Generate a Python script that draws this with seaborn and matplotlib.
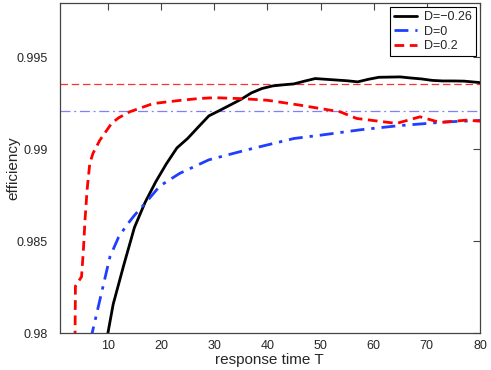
import matplotlib
matplotlib.use("Agg")
import matplotlib.pyplot as plt
import seaborn as sns
import numpy as np

# Data
T_black = [9, 11, 13, 15, 17, 19, 21, 23, 25, 27, 29, 31, 33, 35, 37, 39, 41, 43, 45,
           47, 49, 51, 53, 55, 57, 59, 61, 63, 65, 67, 69, 71, 73, 75, 77, 80]
E_black = [0.9784, 0.98156, 0.9837, 0.98574, 0.9871, 0.98822, 0.9892, 0.99007, 0.99058,
           0.9912, 0.99181, 0.9921, 0.9924, 0.9927, 0.99306, 0.9933, 0.99344, 0.9935,
           0.99355, 0.9937, 0.99384, 0.9938, 0.99376, 0.99372, 0.99366, 0.9938, 0.99391,
           0.99392, 0.99393, 0.99387, 0.99382, 0.99374, 0.99371, 0.99371, 0.9937, 0.99362]

T_blue = [5, 7.05, 8.5, 10.4, 12, 13.5, 15, 17, 19.8, 23.5, 29, 36, 45, 50, 57.4, 64.5, 73.5, 80]
E_blue = [0.976, 0.98, 0.9818, 0.98415, 0.9852, 0.98585, 0.9864, 0.98705, 0.988, 0.98868,
          0.98942, 0.98995, 0.99058, 0.99076, 0.99105, 0.99127, 0.99148, 0.99156]

T_red = [3.7, 3.9, 5.05, 5.4, 5.7, 6.1, 6.6, 7.2, 8.5, 10.7, 12, 14.1, 18.5, 23.5, 27, 30,
         35, 40, 46, 53.7, 56.8, 64.3, 68.7, 72.5, 77.5, 80]
E_red = [0.975, 0.98255, 0.98306, 0.9845, 0.98614, 0.9878, 0.98922, 0.98977, 0.99049, 0.9914,
         0.9917, 0.99203, 0.99248, 0.99265, 0.99275, 0.9928, 0.99275, 0.99266, 0.9924,
         0.99203, 0.99167, 0.9914, 0.99176, 0.99145, 0.99158, 0.99152]

ref_red = 0.99352
ref_blue = 0.99207

labels = ["D=\u22120.26", "D=0", "D=0.2"]
xticks = [10, 20, 30, 40, 50, 60, 70, 80]
yticks = [0.98, 0.985, 0.99, 0.995]
ytick_labels = ["0.98", "0.985", "0.99", "0.995"]

sns.set_style("white")
plt.rcParams['font.family'] = ['Liberation Sans', 'DejaVu Sans']

fig = plt.figure(figsize=(4.91, 3.70), dpi=100)
ax = fig.add_axes([0.1222, 0.1, 0.8554, 0.8919])

ax.axhline(ref_red, color='#ff3030', lw=0.9, ls=(0, (6, 3)))
ax.axhline(ref_blue, color='#7f7fff', lw=0.9, ls=(0, (8, 3, 1.5, 3)))

sns.lineplot(x=T_black, y=E_black, ax=ax, color='black', lw=2.0, label=labels[0])
sns.lineplot(x=T_blue, y=E_blue, ax=ax, color='#1f3fff', lw=2.0,
             linestyle=(0, (5, 2.5, 1.2, 2.5)), label=labels[1])
sns.lineplot(x=T_red, y=E_red, ax=ax, color='#ff0000', lw=2.0,
             linestyle=(0, (3.5, 2)), label=labels[2])

ax.set_xlim(1, 80)
ax.set_ylim(0.98, 0.99795)
ax.set_xticks(xticks)
ax.set_yticks(yticks)
ax.set_yticklabels(ytick_labels)
ax.tick_params(direction='in', length=5, width=0.8, color='#444444',
               labelsize=9, top=True, right=True)
ax.tick_params(axis='x', pad=5)
ax.tick_params(axis='y', pad=9)
for s in ax.spines.values():
    s.set_color('#444444')
    s.set_linewidth(0.9)

ax.set_xlabel("response time T", fontsize=11)
ax.set_ylabel("efficiency", fontsize=11)
ax.xaxis.set_label_coords(0.498, -0.06)
ax.yaxis.set_label_coords(-0.095, 0.5)

leg = ax.legend(loc='upper right', fontsize=9, frameon=True, fancybox=False,
                edgecolor='black', framealpha=1, borderpad=0.3, handlelength=1.8,
                labelspacing=0.2, borderaxespad=0.35, handletextpad=0.6)
leg.get_frame().set_linewidth(0.8)

fig.savefig("out.png", dpi=100)
